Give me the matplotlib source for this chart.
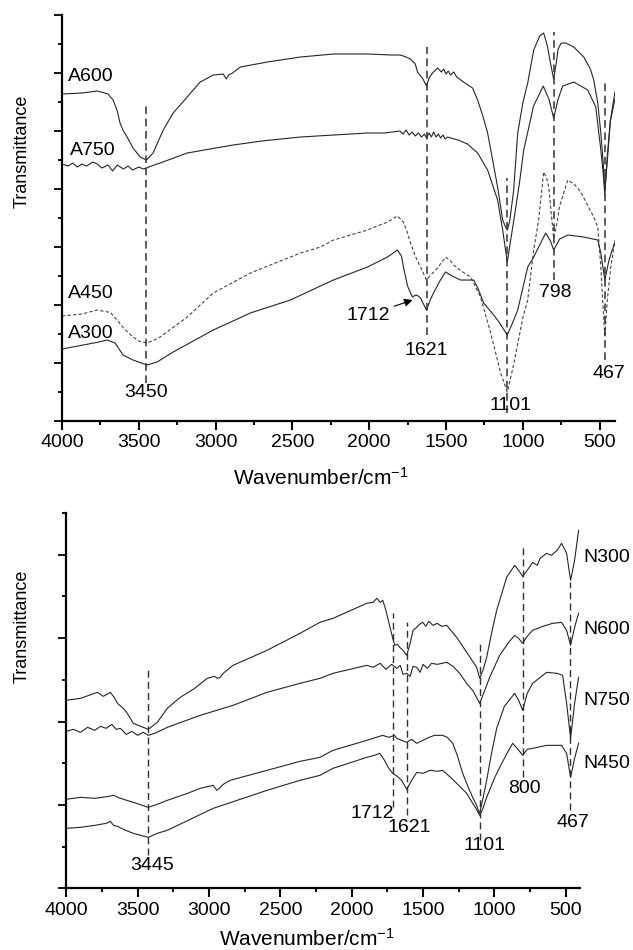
import matplotlib

matplotlib.use("Agg")
import matplotlib.pyplot as plt  # noqa: E402
from matplotlib.ticker import MultipleLocator  # noqa: E402

plt.rcParams.update({
    "font.family": ["Liberation Sans", "DejaVu Sans"],
    "font.size": 14,
    "mathtext.fontset": "custom",
    "mathtext.rm": "Liberation Sans",
    "mathtext.it": "Liberation Sans:italic",
})

# ---- top panel (A series), transmittance in arbitrary units ----
A600_WN = [4000, 3870, 3770, 3700, 3667, 3640, 3622, 3600, 3576, 3537, 3491, 3450, 3407, 3341,
           3276, 3185, 3100, 3015, 2950, 2930, 2915, 2890, 2839, 2663, 2448, 2233, 2011, 1850,
           1796, 1760, 1731, 1700, 1685, 1650, 1627, 1610, 1588, 1555, 1530, 1515, 1500, 1485,
           1470, 1450, 1430, 1386, 1327, 1294, 1260, 1229, 1164, 1131, 1115, 1101, 1085, 1060,
           1033, 1000, 968, 929, 890, 864, 840, 820, 799, 785, 770, 750, 720, 668, 603, 560, 538,
           512, 492, 475, 466, 450, 430, 400]
A600_T = [327, 328, 330, 327, 321, 310, 298, 290, 284, 273, 264, 261, 268, 291,
          308, 324, 339, 346, 347, 342, 346, 348, 354, 359, 364, 367, 367, 366,
          366, 364, 362, 357, 349, 342, 335, 343, 348, 353, 349, 352, 347, 350,
          346, 349, 344, 339, 333, 321, 305, 288, 234, 201, 195, 191, 200, 230,
          288, 318, 338, 371, 385, 388, 375, 358, 342, 355, 372, 378, 378, 374, 364, 352, 341,
          318, 288, 255, 231, 260, 300, 329]

A750_WN = [4000, 3960, 3930, 3900, 3870, 3840, 3800, 3770, 3740, 3700, 3670, 3640, 3600, 3570,
           3540, 3500, 3470, 3450, 3400, 3361, 3185, 3000, 2885, 2700, 2448, 2233, 2011, 1900,
           1850, 1800, 1780, 1760, 1740, 1720, 1700, 1680, 1660, 1640, 1627, 1610, 1595, 1581,
           1565, 1550, 1535, 1520, 1505, 1490, 1470, 1420, 1360, 1294, 1229, 1164, 1130, 1101,
           1080, 1054, 1020, 994, 930, 867, 830, 799, 770, 740, 668, 600, 577, 525, 492, 478,
           466, 450, 430, 400]
A750_T = [257, 255, 258, 254, 257, 255, 259, 257, 253, 256, 250, 256, 252, 255,
          251, 254, 252, 253, 256, 258, 268, 273, 276, 280, 284, 286, 288, 288,
          289, 290, 287, 291, 286, 289, 285, 288, 284, 287, 283, 288, 284, 289,
          284, 287, 283, 286, 282, 284, 283, 281, 277, 268, 251, 221, 190, 159,
          180, 205, 240, 271, 315, 335, 322, 303, 322, 335, 339, 333, 331, 314, 271, 250,
          226, 265, 300, 322]

A450_WN = [4000, 3870, 3772, 3700, 3687, 3641, 3600, 3537, 3500, 3446, 3400, 3361, 3185, 3015,
           2774, 2448, 2318, 2233, 2011, 1881, 1816, 1777, 1750, 1731, 1700, 1666, 1627, 1600,
           1560, 1503, 1470, 1450, 1400, 1340, 1275, 1209, 1144, 1101, 1060, 1000, 968, 929,
           897, 864, 845, 831, 815, 799, 780, 760, 707, 660, 623, 538, 512, 492, 480, 466,
           450, 427, 400]
A450_T = [105, 107, 111, 109, 109, 101, 93, 84, 80, 78, 81, 84, 104, 128,
          148, 168, 174, 181, 191, 199, 205, 199, 188, 178, 165, 154, 141, 146,
          152, 164, 160, 156, 150, 144, 124, 88, 48, 29, 56, 103, 121, 171,
          201, 249, 243, 234, 208, 183, 196, 215, 241, 236, 229, 204, 194, 154, 121, 84,
          121, 154, 181]

A300_WN = [4000, 3863, 3760, 3707, 3654, 3602, 3537, 3446, 3381, 3276, 3015, 2774, 2513, 2318,
           2233, 2011, 1881, 1816, 1790, 1777, 1750, 1731, 1718, 1698, 1680, 1666, 1627, 1600,
           1581, 1540, 1503, 1460, 1405, 1320, 1290, 1255, 1200, 1164, 1130, 1101, 1070, 1033,
           968, 929, 890, 851, 820, 799, 760, 707, 603, 512, 492, 466, 440, 420, 400]
A300_T = [72, 76, 79, 81, 78, 66, 61, 56, 59, 69, 91, 108, 121, 135,
          141, 154, 164, 171, 165, 154, 135, 128, 124, 126, 125, 123, 111, 122,
          128, 140, 149, 145, 141, 141, 132, 118, 108, 101, 93, 86, 97, 111,
          154, 164, 176, 188, 180, 171, 182, 186, 184, 181, 168, 141, 160, 170, 179]

TOP_PEAKS = [3450, 1621, 1101, 798, 467]
TOP_PEAK_LABELS = ["3450", "1621", "1101", "798", "467"]

# ---- bottom panel (N series) ----
N300_WN = [4000, 3900, 3781, 3740, 3690, 3660, 3641, 3600, 3572, 3530, 3425, 3362, 3292, 3201,
           3100, 3012, 2960, 2940, 2921, 2900, 2831, 2593, 2362, 2222, 2131, 1894, 1850, 1824,
           1800, 1782, 1760, 1733, 1712, 1698, 1680, 1663, 1640, 1614, 1590, 1570, 1544, 1525,
           1502, 1480, 1460, 1430, 1400, 1370, 1334, 1264, 1194, 1124, 1103, 1080, 1054, 1020,
           984, 914, 858, 830, 802, 770, 732, 700, 680, 634, 600, 560, 529, 494, 466, 438, 410]
N300_T = [188, 190, 196, 192, 196, 190, 185, 180, 175, 165, 159, 166, 180, 191,
          200, 210, 212, 210, 211, 215, 223, 238, 255, 266, 270, 285, 286, 290,
          286, 288, 278, 262, 250, 243, 244, 241, 238, 233, 245, 258, 261, 264,
          266, 262, 267, 263, 265, 262, 263, 251, 236, 221, 210, 218, 231, 255,
          278, 311, 323, 318, 312, 318, 326, 323, 330, 335, 333, 338, 345, 335, 308, 328, 358]

N600_WN = [4000, 3950, 3900, 3850, 3800, 3760, 3720, 3680, 3650, 3620, 3580, 3540, 3500, 3460,
           3425, 3380, 3292, 3061, 2831, 2593, 2362, 2222, 2131, 1894, 1850, 1800, 1760, 1720,
           1684, 1660, 1640, 1614, 1590, 1570, 1544, 1520, 1500, 1470, 1440, 1400, 1334, 1290,
           1243, 1190, 1152, 1103, 1070, 1033, 963, 900, 858, 830, 802, 770, 732, 660, 592,
           529, 494, 466, 438, 410]
N600_T = [157, 159, 156, 161, 158, 162, 160, 164, 159, 160, 154, 157, 153, 156,
          153, 155, 161, 173, 183, 196, 205, 210, 215, 223, 221, 225, 219, 224,
          220, 223, 214, 215, 212, 222, 221, 216, 224, 220, 225, 224, 226, 222,
          215, 204, 198, 185, 197, 211, 233, 246, 253, 250, 245, 252, 258, 262, 265,
          266, 258, 243, 261, 275]

N750_WN = [4000, 3900, 3800, 3700, 3669, 3620, 3530, 3425, 3362, 3292, 3150, 3061, 2970, 2945,
           2928, 2900, 2852, 2593, 2362, 2222, 2131, 1894, 1782, 1740, 1700, 1684, 1650, 1614,
           1580, 1544, 1500, 1474, 1420, 1362, 1330, 1292, 1260, 1222, 1180, 1152, 1125, 1103,
           1080, 1054, 1020, 984, 930, 858, 830, 802, 770, 732, 634, 560, 522, 494, 466, 438, 410]
N750_T = [89, 91, 90, 92, 93, 90, 86, 81, 84, 88, 95, 100, 103, 98,
          100, 104, 108, 118, 127, 131, 138, 148, 153, 151, 153, 150, 148, 146,
          149, 145, 148, 150, 153, 153, 151, 145, 133, 115, 100, 91, 83, 75,
          90, 108, 135, 160, 182, 195, 188, 178, 195, 205, 216, 215, 213, 185, 150, 185, 211]

N450_WN = [4000, 3900, 3800, 3720, 3690, 3669, 3640, 3600, 3530, 3425, 3362, 3292, 2970, 2593,
           2362, 2222, 2131, 1894, 1840, 1803, 1770, 1740, 1712, 1680, 1650, 1614, 1580, 1544,
           1500, 1450, 1400, 1362, 1300, 1264, 1194, 1152, 1125, 1103, 1080, 1054, 1000, 963,
           900, 872, 840, 802, 770, 732, 634, 529, 494, 466, 438, 410]
N450_T = [60, 61, 63, 65, 67, 63, 62, 59, 55, 51, 55, 58, 80, 98,
          108, 113, 120, 131, 133, 135, 128, 120, 115, 112, 108, 99, 108, 116,
          115, 118, 117, 118, 110, 105, 95, 85, 79, 73, 80, 91, 110, 121,
          138, 145, 140, 133, 139, 140, 143, 143, 135, 111, 130, 145]

BOTTOM_PEAKS = [3425, 1712, 1612, 1101, 802, 467]
BOTTOM_PEAK_LABELS = ["3445", "1712", "1621", "1101", "800", "467"]

LINE = "#262626"
DASH = (0, (5, 3))


def _style_axis(ax, ymax, ystep):
    ax.set_xlim(4000, 400)
    ax.set_ylim(0, ymax)
    for side in ("top", "right"):
        ax.spines[side].set_visible(False)
    for side in ("left", "bottom"):
        ax.spines[side].set_linewidth(1.6)
    ax.xaxis.set_major_locator(MultipleLocator(500))
    ax.xaxis.set_minor_locator(MultipleLocator(250))
    ax.yaxis.set_major_locator(MultipleLocator(2 * ystep))
    ax.yaxis.set_minor_locator(MultipleLocator(ystep))
    ax.tick_params(axis="x", which="major", length=6.5, width=1.5, pad=3)
    ax.tick_params(axis="x", which="minor", length=3.2, width=1.4)
    ax.tick_params(axis="y", which="major", length=6, width=1.3, labelleft=False)
    ax.tick_params(axis="y", which="minor", length=3.2, width=1.3)
    ax.set_xlabel("Wavenumber/cm$^{-1}$", fontsize=15)
    ax.set_ylabel("Transmittance", fontsize=13)
    ax.xaxis.label.set_va("center")
    ax.yaxis.label.set_va("center")


def _vline(ax, x, y0, y1, lw=1.1):
    ax.plot([x, x], [y0, y1], color="#303030", lw=lw, ls=DASH)


fig = plt.figure(figsize=(6.33, 9.5), dpi=100)

# top panel
ax1 = fig.add_axes([0.0979, 0.5568, 0.8736, 0.4274])
_style_axis(ax1, 406, 29)
ax1.plot(A600_WN, A600_T, color=LINE, lw=0.8)
ax1.plot(A750_WN, A750_T, color=LINE, lw=0.8)
ax1.plot(A450_WN, A450_T, color="#444444", lw=0.8, ls=(0, (3, 2)))
ax1.plot(A300_WN, A300_T, color=LINE, lw=0.8)

top_spans = [(38, 315), (86, 374), (8, 243), (141, 389), (61, 341)]
for x, (y0, y1) in zip(TOP_PEAKS, top_spans):
    _vline(ax1, x, y0, y1)

for name, x, y in [("A600", 3961, 345), ("A750", 3948, 271), ("A450", 3961, 128), ("A300", 3961, 88)]:
    ax1.text(x, y, name, ha="left", va="center")
top_label_xy = [(3452, 29), (1627, 71), (1079, 16), (786, 129), (440, 48)]
for text, (x, y) in zip(TOP_PEAK_LABELS, top_label_xy):
    ax1.text(x, y, text, ha="center", va="center")
ax1.annotate("1712", xy=(1718, 121), xytext=(2005, 106), ha="center", va="center",
             arrowprops=dict(arrowstyle="-|>", color="black", lw=0.8, mutation_scale=12,
                             shrinkA=1, shrinkB=0))
ax1.xaxis.set_label_coords(0.468, -0.14)
ax1.yaxis.set_label_coords(-0.072, 0.665)

# bottom panel
ax2 = fig.add_axes([0.1046, 0.0649, 0.8117, 0.3956])
_style_axis(ax2, 375.8, 41.7)
for wn, t in [(N300_WN, N300_T), (N600_WN, N600_T), (N750_WN, N750_T), (N450_WN, N450_T)]:
    ax2.plot(wn, t, color=LINE, lw=0.8)

bottom_spans = [(33, 219), (81, 275), (73, 266), (48, 245), (111, 341), (78, 306)]
for x, (y0, y1) in zip(BOTTOM_PEAKS, bottom_spans):
    _vline(ax2, x, y0, y1, lw=1.0)

for name, y in [("N300", 331), ("N600", 259), ("N750", 188), ("N450", 125)]:
    ax2.text(379, y, name, ha="left", va="center")
bottom_label_xy = [(3397, 23), (1858, 75), (1593, 61), (1068, 43), (789, 100), (452, 66)]
for text, (x, y) in zip(BOTTOM_PEAK_LABELS, bottom_label_xy):
    ax2.text(x, y, text, ha="center", va="center")
ax2.xaxis.set_label_coords(0.469, -0.135)
ax2.yaxis.set_label_coords(-0.086, 0.698)

fig.savefig("out.png", dpi=100)
